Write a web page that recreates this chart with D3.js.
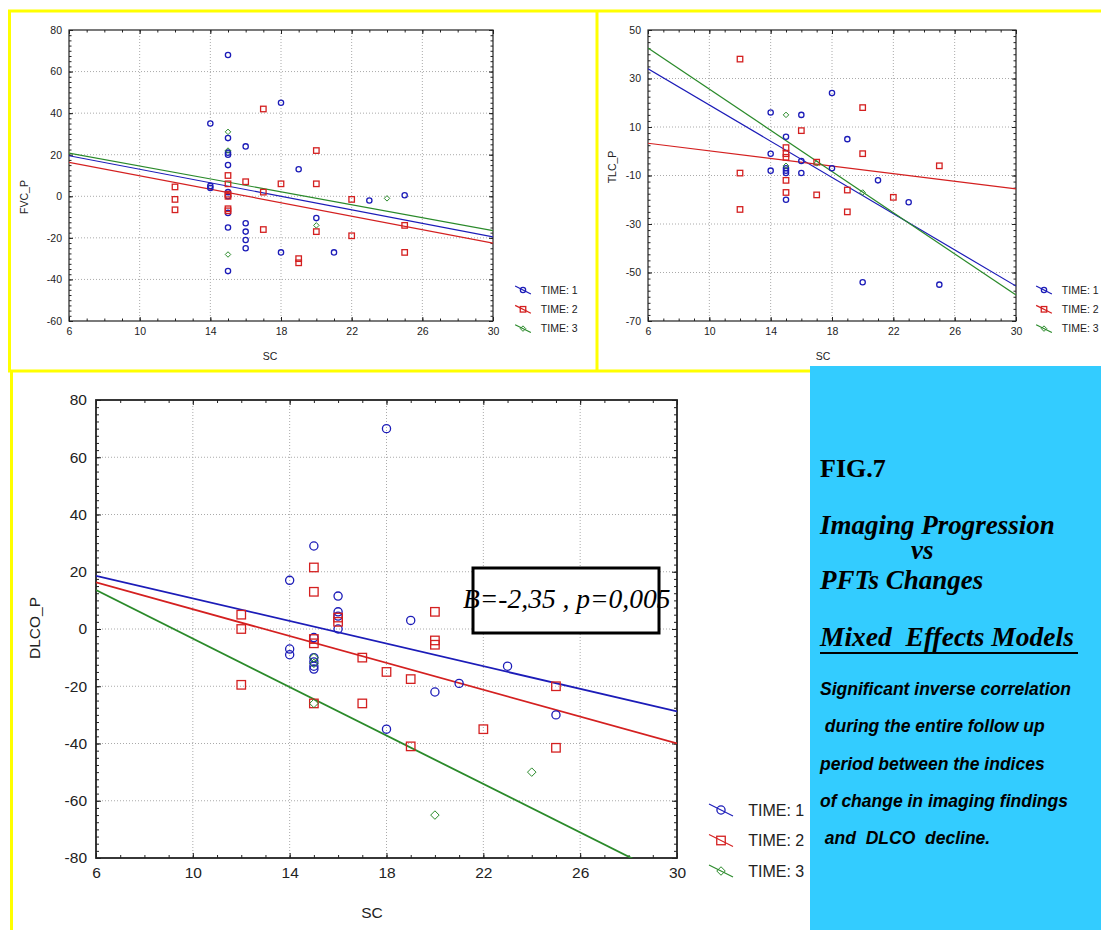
<!DOCTYPE html>
<html>
<head>
<meta charset="utf-8">
<script src="https://cdn.jsdelivr.net/npm/d3@7"></script>
<style>
  body { margin: 0; background: #fff; }
  svg { display: block; }
</style>
</head>
<body>
<svg id="fig" width="1101" height="930"></svg>
<script>
// x axis values (SC)
var xTicks = [6, 10, 14, 18, 22, 26, 30]
var seriesNames = ["TIME: 1", "TIME: 2", "TIME: 3"]

// FVC_P points per time  [SC, value]
var fvcTime1 = [[15,68],[14,35],[14,5],[14,4],[15,28],[15,21],[15,20],[15,15],[15,2],[15,0],[15,-8],[15,-15],[15,-36],
  [16,24],[16,-13],[16,-17],[16,-21],[16,-25],[18,45],[18,-27],[19,13],[20,-10.5],[21,-27],[23,-2],[25,0.5]]
var fvcTime2 = [[12,4.5],[12,-1.5],[12,-6.5],[15,10],[15,6],[15,1],[15,0],[15,-6],[15,-7],[16,7],[17,42],[17,2],[17,-16],
  [18,6],[19,-30],[19,-32],[20,22],[20,6],[20,-17],[22,-1.5],[22,-19],[25,-14],[25,-27]]
var fvcTime3 = [[15,31],[15,22],[15,-28],[20,-14],[24,-1]]
var fvcFit = [[19.5,-19.5],[16.3,-22.5],[20.8,-16.5]]  // fitted value at SC=6 and SC=30
var fvcTicks = [80, 60, 40, 20, 0, -20, -40, -60]

// TLC_P
var tlcTime1 = [[14,16],[14,-1],[14,-8],[15,6],[15,-7],[15,-8],[15,-9],[15,-20],[16,15],[16,-4],[16,-9],[18,24],[18,-7],
  [19,5],[20,-54],[21,-12],[23,-21],[25,-55]]
var tlcTime2 = [[12,38],[12,-9],[12,-24],[15,1.5],[15,-1],[15,-2.5],[15,-12],[15,-17],[16,8.5],[17,-4.5],[17,-18],
  [19,-16],[19,-25],[20,18],[20,-1],[22,-19],[25,-6]]
var tlcTime3 = [[15,15],[15,-6],[17,-5],[20,-17]]
var tlcFit = [[34,-55.6],[3.3,-15.5],[42.6,-59.3]]
var tlcTicks = [50, 30, 10, -10, -30, -50, -70]

// DLCO_P
var dlcoTime1 = [[14,17],[14,-7],[14,-9],[15,29],[15,-3],[15,-10],[15,-11.5],[15,-13],[15,-14],[16,11.5],[16,6],[16,4.5],
  [16,0],[18,70],[18,-35],[19,3],[20,-22],[21,-19],[23,-13],[25,-30]]
var dlcoTime2 = [[12,5],[12,0],[12,-19.5],[15,21.5],[15,13],[15,-3.5],[15,-5],[15,-26],[16,4],[16,2.5],[17,-10],[17,-26],
  [18,-15],[19,-17.5],[19,-41],[20,6],[20,-4],[20,-5.5],[22,-35],[25,-20],[25,-41.5]]
var dlcoTime3 = [[15,-10],[15,-12],[15,-26],[20,-65],[24,-50]]
var dlcoFit = [[18.6,-28.8],[16.3,-40],[13.6,-88]]
var dlcoTicks = [80, 60, 40, 20, 0, -20, -40, -60, -80]

var colors = ["#1c1cb8", "#d42020", "#2a8a2a"]
var shapes = ["circle", "square", "diamond"]
var sans = "'Liberation Sans', Arial, sans-serif"
var serif = "'Liberation Serif', 'Times New Roman', serif"

var svg = d3.select("#fig")

function marker(g, shape, x, y, s, color) {
  if (shape == "circle") {
    g.append("circle").attr("cx", x).attr("cy", y).attr("r", s * 0.48)
      .attr("fill", "none").attr("stroke", color).attr("stroke-width", 1.3)
  } else if (shape == "square") {
    g.append("rect").attr("x", x - s / 2).attr("y", y - s / 2).attr("width", s).attr("height", s)
      .attr("fill", "none").attr("stroke", color).attr("stroke-width", 1.3)
  } else {
    var h = s * 0.5
    g.append("path").attr("d", "M" + x + "," + (y - h) + "L" + (x + h) + "," + y + "L" + x + "," + (y + h) + "L" + (x - h) + "," + y + "Z")
      .attr("fill", "none").attr("stroke", color).attr("stroke-width", 1)
  }
}

function drawPanel(p) {
  var x = d3.scaleLinear().domain([6, 30]).range([p.left, p.right])
  var y = d3.scaleLinear().domain(p.yDomain).range([p.bottom, p.top])
  var g = svg.append("g").attr("id", p.id)

  // grid
  g.selectAll(".gx").data(xTicks.slice(1, -1)).enter().append("line")
    .attr("x1", d => x(d)).attr("x2", d => x(d)).attr("y1", p.top).attr("y2", p.bottom)
    .attr("stroke", "#aaa").attr("stroke-dasharray", "1,2")
  g.selectAll(".gy").data(p.yTicks.slice(1, -1)).enter().append("line")
    .attr("y1", d => y(d)).attr("y2", d => y(d)).attr("x1", p.left).attr("x2", p.right)
    .attr("stroke", "#aaa").attr("stroke-dasharray", "1,2")

  var minorX = d3.range(6, 30.01, 1)
  var step = (p.yTicks[0] - p.yTicks[1]) / 8
  var minorY = d3.range(p.yDomain[0], p.yDomain[1] + 0.01, step)

  var makers = [() => d3.axisBottom(x), () => d3.axisTop(x), () => d3.axisLeft(y), () => d3.axisRight(y)]
  var moves = ["translate(0," + p.bottom + ")", "translate(0," + p.top + ")",
    "translate(" + p.left + ",0)", "translate(" + p.right + ",0)"]
  makers.forEach(function(mk, i) {
    var isX = i < 2
    var labelled = i == 0 || i == 2
    g.append("g").attr("transform", moves[i])
      .call(mk().tickValues(isX ? minorX : minorY).tickSize(-p.minorLen).tickFormat(""))
      .call(s => s.select(".domain").remove())
    var sel = g.append("g").attr("transform", moves[i])
      .call(mk().tickValues(isX ? xTicks : p.yTicks).tickSize(-p.majorLen).tickPadding(p.pad).tickFormat(d => String(d)))
    sel.select(".domain").remove()
    if (labelled) {
      sel.selectAll("text").attr("font-size", p.font).attr("fill", "#222").style("font-family", sans)
    } else {
      sel.selectAll("text").remove()
    }
  })
  g.selectAll(".tick line").attr("stroke", "#222")
  g.append("rect").attr("x", p.left).attr("y", p.top).attr("width", p.right - p.left).attr("height", p.bottom - p.top)
    .attr("fill", "none").attr("stroke", "#222").attr("stroke-width", p.frame)

  // clip for fitted lines
  svg.append("clipPath").attr("id", "clip-" + p.id).append("rect")
    .attr("x", p.left).attr("y", p.top).attr("width", p.right - p.left).attr("height", p.bottom - p.top)

  var line = d3.line().x(d => x(d[0])).y(d => y(d[1]))
  p.fits.forEach(function(f, i) {
    g.append("path").datum([[6, f[0]], [30, f[1]]]).attr("d", line)
      .attr("clip-path", "url(#clip-" + p.id + ")")
      .attr("fill", "none").attr("stroke", colors[i]).attr("stroke-width", p.lineW)
  })
  p.series.forEach(function(pts, i) {
    pts.forEach(function(d) { marker(g, shapes[i], x(d[0]), y(d[1]), p.ms, colors[i]) })
  })

  // axis titles
  g.append("text").attr("x", p.xLab[0]).attr("y", p.xLab[1]).attr("text-anchor", "middle")
    .style("font-family", sans).attr("font-size", p.font).attr("fill", "#222").text("SC")
  g.append("text").attr("transform", "translate(" + p.yLab[0] + "," + p.yLab[1] + ") rotate(-90)")
    .style("font-family", sans).attr("text-anchor", "middle").attr("font-size", p.font).attr("fill", "#222").text(p.yName)

  // legend
  seriesNames.forEach(function(name, i) {
    var ly = p.leg[1] + i * p.leg[2], lx = p.leg[0]
    var hw = p.legFont * 0.75
    g.append("line").attr("x1", lx - hw).attr("y1", ly - hw * 0.5).attr("x2", lx + hw).attr("y2", ly + hw * 0.5)
      .attr("stroke", colors[i]).attr("stroke-width", 1.2)
    marker(g, shapes[i], lx, ly, p.ms, colors[i])
    g.append("text").attr("x", lx + p.legFont * 1.7).attr("y", ly).attr("dy", "0.36em")
      .style("font-family", sans).attr("font-size", p.legFont).attr("fill", "#222").text(name)
  })
}

drawPanel({ id: "fvc", left: 69, right: 493, top: 30, bottom: 321, yDomain: [-60, 80], yTicks: fvcTicks,
  fits: fvcFit, series: [fvcTime1, fvcTime2, fvcTime3], ms: 5.5, font: 10.5, legFont: 10.5, pad: 7,
  majorLen: 4, minorLen: 2.5, frame: 1.2, lineW: 1.2, xLab: [270, 360], yLab: [28, 197], yName: "FVC_P",
  leg: [523, 290, 19.3] })

drawPanel({ id: "tlc", left: 648, right: 1016, top: 30, bottom: 321, yDomain: [-70, 50], yTicks: tlcTicks,
  fits: tlcFit, series: [tlcTime1, tlcTime2, tlcTime3], ms: 5.5, font: 10.5, legFont: 10.5, pad: 7,
  majorLen: 4, minorLen: 2.5, frame: 1.2, lineW: 1.2, xLab: [823, 360], yLab: [616, 167], yName: "TLC_P",
  leg: [1044, 290, 19.3] })

drawPanel({ id: "dlco", left: 96, right: 677, top: 400, bottom: 858, yDomain: [-80, 80], yTicks: dlcoTicks,
  fits: dlcoFit, series: [dlcoTime1, dlcoTime2, dlcoTime3], ms: 8.5, font: 15.5, legFont: 16, pad: 9,
  majorLen: 5, minorLen: 3, frame: 1.8, lineW: 1.8, xLab: [372, 918], yLab: [40, 628], yName: "DLCO_P",
  leg: [721, 810, 30.5] })

// yellow panel borders
var yellow = "#ffff00"
var borders = [[8, 11, 1101, 11], [9.5, 11, 9.5, 371], [597, 11, 597, 371], [8, 371, 810, 371], [11.5, 371, 11.5, 930]]
borders.forEach(function(b) {
  svg.append("line").attr("x1", b[0]).attr("y1", b[1]).attr("x2", b[2]).attr("y2", b[3])
    .attr("stroke", yellow).attr("stroke-width", 3)
})

// statistic box
svg.append("rect").attr("x", 473).attr("y", 568).attr("width", 186).attr("height", 65)
  .attr("fill", "#fff").attr("stroke", "#000").attr("stroke-width", 3)
svg.append("text").attr("x", 463).attr("y", 608)
  .style("font-family", serif).attr("font-style", "italic")
  .attr("font-size", 27.5).attr("fill", "#000").text("B=-2,35 , p=0,005")

// side panel
svg.append("rect").attr("x", 810).attr("y", 366).attr("width", 291).attr("height", 564).attr("fill", "#33ccff")
var titles = [
  ["FIG.7", 820, 477, 26, "normal"],
  ["Imaging Progression", 820, 534, 27, "italic"],
  ["vs", 911, 559, 27, "italic"],
  ["PFTs Changes", 820, 589, 27, "italic"],
  ["Mixed  Effects Models", 820, 646, 27.5, "italic"]
]
titles.forEach(function(t) {
  svg.append("text").attr("x", t[1]).attr("y", t[2]).style("font-family", serif)
    .attr("font-weight", "bold").attr("font-style", t[4]).attr("font-size", t[3])
    .attr("fill", "#000").style("white-space", "pre").text(t[0])
})
svg.append("line").attr("x1", 820).attr("x2", 1078).attr("y1", 653).attr("y2", 653)
  .attr("stroke", "#000").attr("stroke-width", 2)

var notes = ["Significant inverse correlation", " during the entire follow up", "period between the indices",
  "of change in imaging findings", " and  DLCO  decline."]
notes.forEach(function(t, i) {
  svg.append("text").attr("x", 820).attr("y", 695 + i * 37.3)
    .style("font-family", sans).attr("font-weight", "bold").attr("font-style", "italic").attr("font-size", 17.5)
    .attr("fill", "#000").style("white-space", "pre").text(t)
})
</script>
</body>
</html>
